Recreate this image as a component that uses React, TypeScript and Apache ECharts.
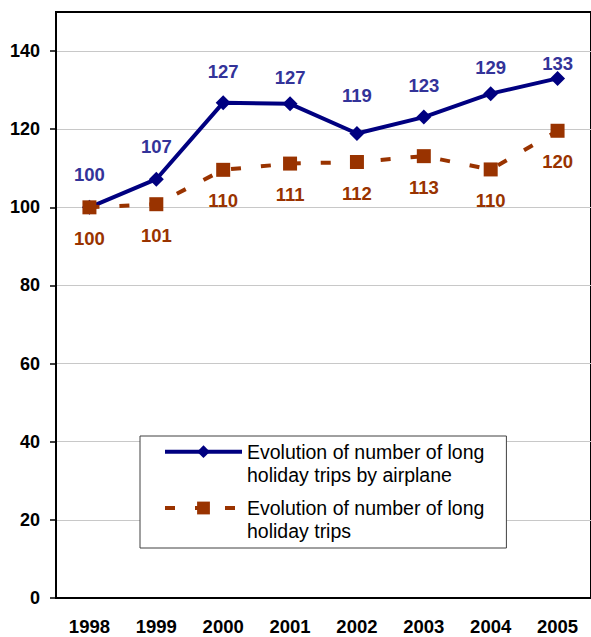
import React, { useEffect, useRef } from "react";
import * as echarts from "echarts";

const years = ["1998", "1999", "2000", "2001", "2002", "2003", "2004", "2005"];
const airplaneTrips = [100, 107.2, 126.8, 126.5, 118.9, 123.1, 129.1, 133.0];
const allTrips = [100, 100.8, 109.6, 111.2, 111.6, 113.1, 109.7, 119.6];
const yTicks = [0, 20, 40, 60, 80, 100, 120, 140];
const seriesNames = [
  "Evolution of number of long\nholiday trips by airplane",
  "Evolution of number of long\nholiday trips",
];

// style only: label distances above the airplane points
const airLabelDist = [16, 16, 14.6, 9.7, 20.7, 14.7, 9, -1.7];

const FONT = "Arial, 'Liberation Sans', sans-serif";
const LH = 23;

export default function App() {
  const ref = useRef<HTMLDivElement>(null);

  useEffect(() => {
    document.body.style.margin = "0";
    if (!ref.current) return;
    const chart = echarts.init(ref.current, undefined, { renderer: "svg" });
    chart.setOption({
      animation: false,
      backgroundColor: "#ffffff",
      grid: {
        left: 56,
        top: 12,
        width: 539,
        height: 586,
        show: true,
        borderColor: "#000",
        borderWidth: 2,
        backgroundColor: "transparent",
      },
      legend: {
        orient: "vertical",
        left: 140,
        top: 436,
        padding: [-18.8, 22, 5.5, 23],
        itemGap: -12.7,
        itemWidth: 77,
        itemHeight: 16,
        backgroundColor: "#fff",
        borderColor: "#404040",
        borderWidth: 1,
        borderRadius: 0,
        data: seriesNames,
        formatter: (n: string) => "\n" + n,
        lineStyle: { width: 4 },
        textStyle: {
          fontFamily: FONT,
          fontSize: 19.5,
          color: "#000",
          lineHeight: LH,
        },
      },
      xAxis: {
        type: "category",
        data: years,
        boundaryGap: true,
        axisLine: { lineStyle: { color: "#000", width: 2 } },
        axisTick: { show: false },
        axisLabel: {
          fontFamily: FONT,
          fontSize: 18.5,
          fontWeight: "bold",
          color: "#000",
          margin: 19,
        },
      },
      yAxis: {
        type: "value",
        min: 0,
        max: 150,
        interval: 20,
        axisLine: { show: true, lineStyle: { color: "#000", width: 2 } },
        axisTick: {
          show: true,
          length: 6,
          lineStyle: { color: "#000", width: 1.5 },
          customValues: yTicks,
        },
        axisLabel: {
          fontFamily: FONT,
          fontSize: 18,
          fontWeight: "bold",
          color: "#000",
          margin: 16,
          customValues: yTicks,
        },
        splitLine: { show: true, lineStyle: { color: "#c8c8c8", width: 1 } },
      },
      series: [
        {
          name: seriesNames[0],
          type: "line",
          data: airplaneTrips.map((v, i) => ({
            value: v,
            label: { distance: airLabelDist[i] },
          })),
          symbol: "diamond",
          symbolSize: 15,
          itemStyle: { color: "#000080" },
          lineStyle: { color: "#000080", width: 4 },
          label: {
            show: true,
            position: "top",
            fontFamily: FONT,
            fontSize: 18.5,
            fontWeight: "bold",
            color: "#333399",
            formatter: (p: any) => String(Math.round(p.value)),
          },
          z: 2,
        },
        {
          name: seriesNames[1],
          type: "line",
          data: allTrips,
          symbol: "rect",
          symbolSize: 14,
          itemStyle: { color: "#993300" },
          lineStyle: { color: "#993300", width: 4, type: [10, 20] },
          label: {
            show: true,
            position: "bottom",
            distance: 14.5,
            fontFamily: FONT,
            fontSize: 18.5,
            fontWeight: "bold",
            color: "#993300",
            formatter: (p: any) => String(Math.round(p.value)),
          },
          z: 3,
        },
      ],
    });
    return () => chart.dispose();
  }, []);

  return (
    <div
      ref={ref}
      style={{ position: "absolute", left: 0, top: 0, width: 591, height: 637 }}
    />
  );
}
